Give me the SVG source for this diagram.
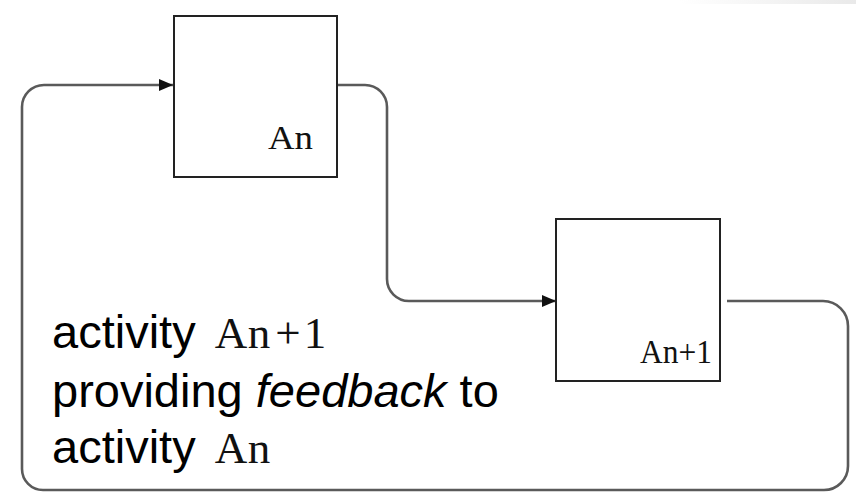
<svg xmlns="http://www.w3.org/2000/svg" width="856" height="493" viewBox="0 0 856 493">
  <defs>
    <linearGradient id="topband" x1="0" y1="0" x2="1" y2="0">
      <stop offset="0" stop-color="#ffffff"/>
      <stop offset="1" stop-color="#e9e9e9"/>
    </linearGradient>
    <marker id="arrow" markerUnits="userSpaceOnUse" markerWidth="15" markerHeight="14" refX="14" refY="7" orient="auto">
      <path d="M0,1 L14,7 L0,13 Z" fill="#111"/>
    </marker>
  </defs>
  <style>
    .box { fill: #ffffff; stroke: #222; stroke-width: 2; }
    .conn { fill: none; stroke: #5a5a5a; stroke-width: 2.6; }
    .lbl { font-family: "Liberation Serif", "Times New Roman", serif; font-size: 33px; fill: #111; }
    .txt { font-family: "Liberation Sans", Arial, sans-serif; font-size: 47px; fill: #000; }
    .mono { font-family: "Liberation Serif", "Times New Roman", serif; font-size: 45px; fill: #111; text-anchor: middle; }
  </style>
  <rect x="0" y="0" width="856" height="493" fill="#ffffff"/>
  <rect x="680" y="0" width="176" height="4" fill="url(#topband)"/>

  <g id="connectors">
    <path class="conn" d="M727,301 H823 A25,25 0 0 1 848,326 V466 A24,24 0 0 1 824,490 H43 A21,21 0 0 1 22,469 V107 A22,22 0 0 1 44,85 H173" marker-end="url(#arrow)"/>
    <path class="conn" d="M338,85 H365 A22,22 0 0 1 387,107 V279 A22,22 0 0 0 409,301 H556" marker-end="url(#arrow)"/>
  </g>

  <g id="node-An">
    <rect class="box" x="174" y="16" width="163" height="161"/>
    <text class="lbl" x="268" y="149" textLength="45" lengthAdjust="spacingAndGlyphs">An</text>
  </g>

  <g id="node-An1">
    <rect class="box" x="556" y="219" width="164" height="162"/>
    <text class="lbl" x="640" y="363" textLength="72" lengthAdjust="spacingAndGlyphs">An+1</text>
  </g>

  <g id="caption">
    <text class="txt" x="52" y="348">activity</text>
    <text class="mono" x="231 259 288 315" y="348">An+1</text>
    <text class="txt" x="52" y="407">providing <tspan font-style="italic">feedback</tspan> to</text>
    <text class="txt" x="52" y="463">activity</text>
    <text class="mono" x="231 259" y="463">An</text>
  </g>
</svg>
